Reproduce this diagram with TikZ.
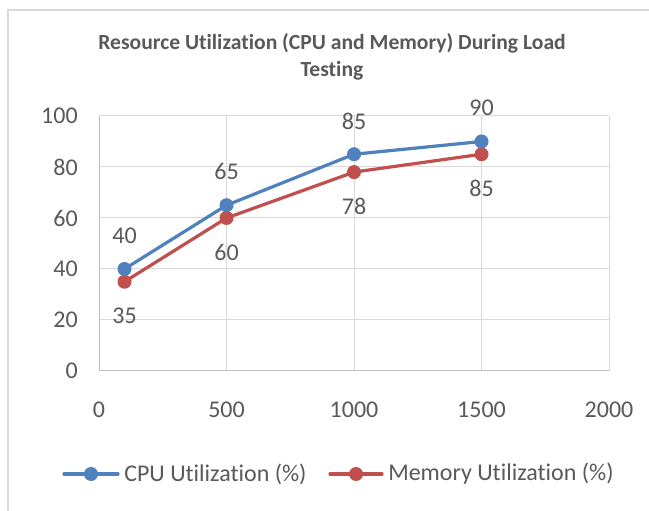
\documentclass[tikz,border=0pt]{standalone}
\usepackage{fontspec}
\setmainfont{Carlito}[Ligatures=NoCommon]
\usetikzlibrary{positioning,calc}

\definecolor{cpublue}{HTML}{4F81BD}
\definecolor{memred}{HTML}{C0504D}
\definecolor{gridgray}{HTML}{D9D9D9}
\definecolor{axisgray}{HTML}{BFBFBF}
\definecolor{textgray}{HTML}{595959}

\begin{document}
\begin{tikzpicture}[x=0.75pt,y=0.75pt,
    grid line/.style={gridgray,line width=0.75pt},
    axis line/.style={axisgray,line width=0.75pt},
    tick label/.style={text=textgray,font=\fontsize{18}{20}\selectfont,inner sep=0pt},
    value label/.style={tick label},
    series/.style={line width=2.4pt,line join=round,line cap=round},
    dot/.style={circle,fill=#1,inner sep=0pt,minimum size=10.5pt}]

\useasboundingbox (0,0) rectangle (649,510);
\fill[white] (0,0) rectangle (649,510);

% chart frame
\draw[gridgray,line width=0.9pt] (8,-5) -- (8,500) -- (660,500);

\node[font=\bfseries\fontsize{16.2}{20.5}\selectfont,text=textgray,align=center] (title)
    at (332,453) {Resource Utilization (CPU and Memory) During Load\\Testing};

% tick labels
\foreach \v in {0,20,...,100}
    \node[tick label,anchor=east] (yt\v) at (78,{139+2.55*\v}) {\v};
\foreach \v in {0,500,...,2000}
    \node[tick label] (xt\v) at ({99+0.255*\v},100) {\v};

\begin{scope}[shift={(99,139)},xscale=0.255,yscale=2.55]
    % grid
    \foreach \v in {20,40,...,100}
        \draw[grid line] (0,\v) -- (2000,\v);
    \foreach \v in {500,1000,...,2000}
        \draw[grid line] (\v,0) -- (\v,100);
    \draw[axis line] (0,100) -- (0,0) -- (2000,0);

    % data points
    \coordinate (c1) at (100,40);
    \coordinate (c2) at (500,65);
    \coordinate (c3) at (1000,85);
    \coordinate (c4) at (1500,90);
    \coordinate (m1) at (100,35);
    \coordinate (m2) at (500,60);
    \coordinate (m3) at (1000,78);
    \coordinate (m4) at (1500,85);
\end{scope}

\draw[series,memred] (m1) -- (m2) -- (m3) -- (m4);
\draw[series,cpublue] (c1) -- (c2) -- (c3) -- (c4);

\foreach \i/\cv/\mv in {1/40/35,2/65/60,3/85/78,4/90/85} {
    \node[dot=memred] (md\i) at (m\i) {};
    \node[dot=cpublue] (cd\i) at (c\i) {};
    \node[value label,yshift=25pt] (cl\i) at (c\i) {\cv};
    \node[value label,yshift=-25.5pt] (ml\i) at (m\i) {\mv};
}

% legend
\coordinate (la) at (64,36);
\coordinate (lb) at (118,36);
\coordinate (lc) at (330,36);
\coordinate (ld) at (382,36);
\draw[series,cpublue] (la) -- (lb);
\node[dot=cpublue] (lcpu) at ($(la)!0.5!(lb)$) {};
\node[tick label,anchor=west,right=4.5pt of lb] (lcputext) {CPU Utilization (\%)};
\draw[series,memred] (lc) -- (ld);
\node[dot=memred] (lmem) at ($(lc)!0.5!(ld)$) {};
\node[tick label,anchor=west,right=4.5pt of ld] (lmemtext) {Memory Utilization (\%)};

\end{tikzpicture}
\end{document}
